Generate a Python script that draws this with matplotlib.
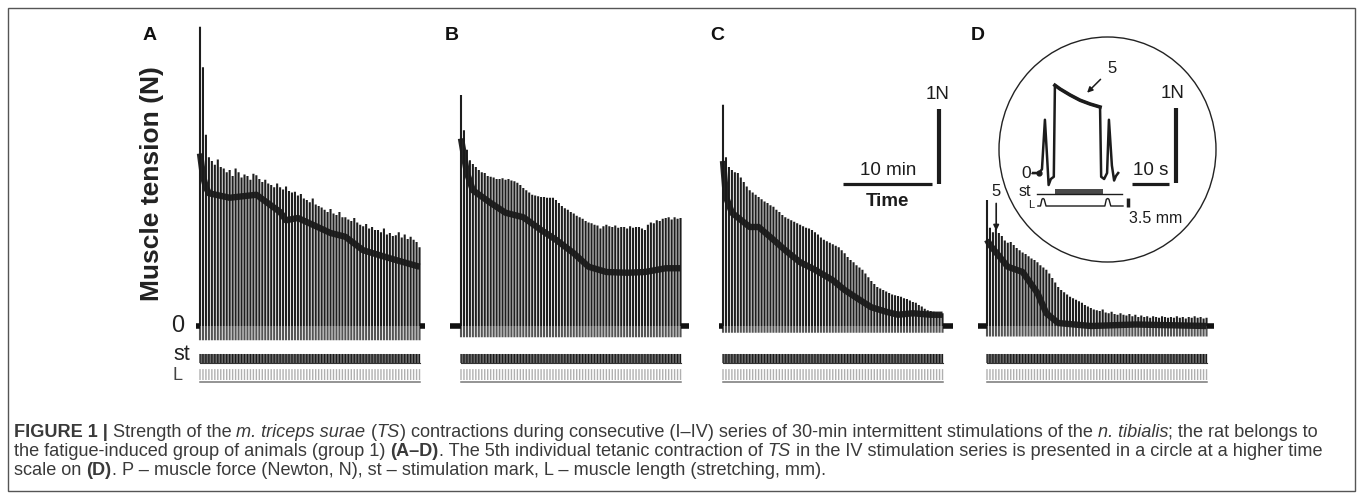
import numpy as np
import matplotlib
matplotlib.use("Agg")
import matplotlib.pyplot as plt
from matplotlib.patches import Rectangle, Ellipse

# ---- data ----
STIM_INTERVAL_S = 20          # one tetanic contraction every 20 s
N_CONTR = 75

# peak tension of every contraction (N), series I-IV
peaks_a = [3.99, 3.45, 2.55, 2.25, 2.20, 2.15, 2.22, 2.12, 2.10, 2.05,
           2.08, 2.00, 2.10, 2.05, 1.98, 2.02, 2.00, 1.95, 2.03, 2.01,
           1.96, 1.92, 1.95, 1.90, 1.88, 1.85, 1.90, 1.85, 1.82, 1.86,
           1.80, 1.78, 1.79, 1.74, 1.76, 1.70, 1.68, 1.65, 1.70, 1.62,
           1.60, 1.58, 1.55, 1.52, 1.56, 1.50, 1.48, 1.52, 1.45, 1.45,
           1.42, 1.40, 1.44, 1.38, 1.35, 1.33, 1.36, 1.30, 1.32, 1.28,
           1.28, 1.25, 1.30, 1.22, 1.24, 1.20, 1.21, 1.25, 1.18, 1.22,
           1.16, 1.19, 1.15, 1.12, 1.05]
peaks_b = [3.08, 2.61, 2.35, 2.21, 2.16, 2.12, 2.08, 2.05, 2.04, 2.00,
           1.99, 1.98, 1.96, 1.96, 1.97, 1.95, 1.96, 1.94, 1.93, 1.91,
           1.88, 1.84, 1.81, 1.78, 1.75, 1.74, 1.73, 1.72, 1.72, 1.71,
           1.71, 1.71, 1.68, 1.64, 1.60, 1.57, 1.55, 1.52, 1.50, 1.47,
           1.45, 1.43, 1.40, 1.38, 1.37, 1.35, 1.34, 1.30, 1.33, 1.35,
           1.33, 1.32, 1.34, 1.31, 1.32, 1.32, 1.30, 1.33, 1.31, 1.32,
           1.32, 1.30, 1.28, 1.35, 1.38, 1.37, 1.41, 1.40, 1.43, 1.44,
           1.45, 1.42, 1.45, 1.43, 1.44]
peaks_c = [2.95, 2.25, 2.12, 2.08, 2.05, 2.04, 1.98, 1.92, 1.86, 1.81,
           1.78, 1.75, 1.72, 1.69, 1.66, 1.64, 1.61, 1.59, 1.55, 1.52,
           1.48, 1.45, 1.43, 1.41, 1.39, 1.37, 1.35, 1.33, 1.31, 1.30,
           1.28, 1.25, 1.22, 1.18, 1.15, 1.13, 1.11, 1.09, 1.07, 1.05,
           1.01, 0.97, 0.92, 0.88, 0.85, 0.81, 0.78, 0.75, 0.70, 0.65,
           0.60, 0.56, 0.52, 0.50, 0.48, 0.46, 0.44, 0.42, 0.41, 0.40,
           0.39, 0.37, 0.36, 0.34, 0.32, 0.31, 0.28, 0.26, 0.23, 0.21,
           0.20, 0.19, 0.18, 0.17, 0.17]
peaks_d = [1.68, 1.31, 1.25, 1.30, 1.24, 1.20, 1.14, 1.11, 1.12, 1.08,
           1.04, 1.01, 0.98, 0.96, 0.93, 0.90, 0.88, 0.85, 0.81, 0.78,
           0.75, 0.70, 0.64, 0.58, 0.52, 0.48, 0.45, 0.42, 0.39, 0.37,
           0.35, 0.33, 0.31, 0.28, 0.26, 0.24, 0.22, 0.21, 0.20, 0.22,
           0.18, 0.17, 0.19, 0.16, 0.15, 0.17, 0.15, 0.14, 0.16, 0.13,
           0.15, 0.12, 0.14, 0.12, 0.13, 0.11, 0.13, 0.12, 0.11, 0.13,
           0.12, 0.11, 0.12, 0.11, 0.13, 0.11, 0.12, 0.10, 0.12, 0.11,
           0.13, 0.11, 0.12, 0.10, 0.11]

# plateau (dark band) tension, given at selected contraction numbers
band_a_idx = [0, 1, 2, 3, 10, 19, 27, 29, 33, 38, 44, 49, 55, 60, 66, 74]
band_a_val = [2.30, 2.00, 1.85, 1.77, 1.71, 1.75, 1.52, 1.41, 1.44, 1.35,
              1.24, 1.19, 1.01, 0.95, 0.88, 0.79]
band_b_idx = [0, 2, 4, 10, 15, 21, 27, 32, 38, 43, 49, 56, 62, 69, 74]
band_b_val = [2.50, 2.04, 1.81, 1.64, 1.51, 1.45, 1.28, 1.15, 0.97, 0.79,
              0.72, 0.71, 0.72, 0.77, 0.77]
band_c_idx = [0, 1, 3, 9, 12, 17, 21, 26, 31, 37, 41, 46, 50, 55, 59, 64, 70, 74]
band_c_val = [2.20, 1.72, 1.51, 1.32, 1.32, 1.15, 1.01, 0.85, 0.75, 0.61,
              0.48, 0.35, 0.25, 0.19, 0.15, 0.17, 0.15, 0.15]
band_d_idx = [0, 1, 7, 12, 17, 20, 24, 35, 50, 74]
band_d_val = [1.15, 1.08, 0.79, 0.72, 0.44, 0.17, 0.04, 0.0, 0.02, 0.0]

troughs = [-0.19, -0.15, -0.09, -0.14]       # undershoot below zero (N)
rest_pre = [0.5, 1.2, 0.5, 1.0]              # resting baseline before series (min)
rest_post = [0.6, 0.9, 1.2, 0.8]             # resting baseline after series (min)
panel_letters = ["A", "B", "C", "D"]

# inset: 5th contraction of series IV (time in s, tension in N)
ins_t = [-1.6, 0.0, 0.8, 1.6, 2.2, 2.6, 3.2, 4.0, 4.3, 5.7, 8.4, 11.1,
         13.8, 16.5, 16.8, 17.6, 18.4, 18.9, 19.7, 20.3, 20.8, 21.4]
ins_f = [0.0, 0.0, 0.05, 0.71, 0.20, -0.16, -0.08, -0.05, 1.17, 1.12, 1.04, 0.97,
         0.92, 0.88, -0.05, -0.08, 0.0, 0.71, 0.10, -0.10, -0.04, 0.0]
ins_stim = (4.3, 17.3)                       # stimulation train (s)
ins_len_t = [-0.3, 0.4, 0.8, 1.1, 1.4, 1.9, 17.8, 18.2, 18.6, 18.9, 19.4, 22.7]
ins_len_v = [0.0, 0.0, 0.09, 0.10, 0.09, 0.0, 0.0, 0.09, 0.10, 0.09, 0.0, 0.0]

caption = [
    [("FIGURE 1 | ", "bold"), ("Strength of the ", ""), ("m. triceps surae", "italic"),
     (" (", ""), ("TS", "italic"),
     (") contractions during consecutive (I\u2013IV) series of 30-min intermittent stimulations of the ", ""),
     ("n. tibialis", "italic"), ("; the rat belongs to", "")],
    [("the fatigue-induced group of animals (group 1) ", ""), ("(A\u2013D)", "bold"),
     (". The 5th individual tetanic contraction of ", ""), ("TS", "italic"),
     (" in the IV stimulation series is presented in a circle at a higher time", "")],
    [("scale on ", ""), ("(D)", "bold"),
     (". P \u2013 muscle force (Newton, N), st \u2013 stimulation mark, L \u2013 muscle length (stretching, mm).", "")],
]

# ---- layout ----
W, H = 1358, 498
PX_MIN = 8.9        # px per minute
PX_N = 75.0         # px per newton
ZERO_Y = 326
panel_x0 = [200, 461, 723, 987]
FONT = "Liberation Sans"
plt.rcParams["font.family"] = [FONT, "DejaVu Sans"]

fig = plt.figure(figsize=(W / 100, H / 100), dpi=100)


def px_axes(x0, y0, x1, y1):
    ax = fig.add_axes([x0 / W, 1 - y1 / H, (x1 - x0) / W, (y1 - y0) / H])
    ax.axis("off")
    return ax


def ftext(x, y, s, **kw):
    return fig.text(x / W, 1 - y / H, s, **kw)


ink = "#1c1c1c"
t = np.arange(N_CONTR) * STIM_INTERVAL_S / 60.0
t_end = t[-1]
all_peaks = [peaks_a, peaks_b, peaks_c, peaks_d]
bands = [(band_a_idx, band_a_val), (band_b_idx, band_b_val),
         (band_c_idx, band_c_val), (band_d_idx, band_d_val)]
axes = []
for k in range(4):
    x0 = panel_x0[k]
    ax = px_axes(x0 - 2 * PX_MIN, ZERO_Y - 4.3 * PX_N, x0 + 27 * PX_MIN, ZERO_Y + 0.9 * PX_N)
    ax.set_xlim(-2, 27)
    ax.set_ylim(-0.9, 4.3)
    axes.append(ax)
    pk = np.array(all_peaks[k])
    ax.vlines(t, troughs[k], 0, color="#555555", lw=1.5, snap=False)
    ax.vlines(t, 0, pk, color="#1e1e1e", lw=1.5, snap=False)
    bi, bv = bands[k]
    ax.plot(np.array(bi) * STIM_INTERVAL_S / 60.0, bv, color="#1a1a1a", lw=4.6,
            solid_capstyle="butt", solid_joinstyle="round", alpha=0.95)
    ax.plot([-rest_pre[k], 0], [0, 0], color="#111111", lw=4, solid_capstyle="butt")
    ax.plot([t_end, t_end + rest_post[k]], [0, 0], color="#111111", lw=4,
            solid_capstyle="butt")
    # stimulation mark
    ax.add_patch(Rectangle((0, -0.493), t_end, 0.12, color="#6a6a6a", lw=0))
    ax.vlines(t, -0.493, -0.373, color="#1a1a1a", lw=0.9, snap=False)
    ax.plot([0, t_end], [-0.493, -0.493], color="#333333", lw=0.8)
    # muscle length
    ax.vlines(t, -0.72, -0.575, color="#b0b0b0", lw=1.0, snap=False)
    ax.plot([0, t_end], [-0.74, -0.74], color="#777777", lw=1.1)
    # panel letter
    ftext([150, 452, 717, 978][k], 35, panel_letters[k], fontsize=14,
          fontweight="bold", ha="center", va="center", color="#111111")

# arrow at the 5th contraction of series IV
FIFTH = 4
axes[3].annotate("5", xy=(t[FIFTH] - 0.3, peaks_d[FIFTH] + 0.03),
                 xytext=(t[FIFTH] - 0.3, peaks_d[FIFTH] + 0.45),
                 fontsize=12, ha="center", va="bottom", color=ink,
                 arrowprops=dict(arrowstyle="-|>", color=ink, lw=1.2,
                                 mutation_scale=8, shrinkA=1, shrinkB=0))

# scale bars (1 N, 10 min) in panel C coordinates
SCALE_N, SCALE_MIN = 1.0, 10.0
axc = axes[2]
bar_x, bar_y = 24.27, 1.89
axc.plot([bar_x, bar_x], [bar_y, bar_y + SCALE_N], color=ink, lw=3, solid_capstyle="butt")
axc.plot([bar_x - 0.75 - SCALE_MIN, bar_x - 0.75], [bar_y, bar_y], color=ink, lw=2.3,
         solid_capstyle="butt")
axc.text(bar_x - 0.15, bar_y + SCALE_N + 0.08, "1N", fontsize=13.5, ha="center", va="bottom",
         color=ink)
axc.text(bar_x - 0.75 - SCALE_MIN / 2, bar_y + 0.07, "10 min", fontsize=13.5, ha="center",
         va="bottom", color=ink)
axc.text(bar_x - 0.75 - SCALE_MIN / 2, bar_y - 0.12, "Time", fontsize=13.5, ha="center",
         va="top", fontweight="bold", color=ink)

# left labels
ftext(178, 326, "0", fontsize=17, ha="center", va="center", color="#222222")
ftext(182, 355, "st", fontsize=15.5, ha="center", va="center", color="#222222")
ftext(178, 376, "L", fontsize=13, ha="center", va="center", color="#444444")
ftext(152, 184, "Muscle tension (N)", fontsize=19, fontweight="bold", rotation=90,
      ha="center", va="center", color="#222222")

# ---- inset ----
fig.add_artist(Ellipse((1107.5 / W, 1 - 149.5 / H), 217 / W, 225 / H, transform=fig.transFigure,
                       fill=False, ec="#222222", lw=1.0))
IPX_S = 3.7
I_T0, I_Y0 = 1039, 173
ix0, iy0, ix1, iy1 = 1000, 40, 1215, 260
ai = px_axes(ix0, iy0, ix1, iy1)
ai.set_xlim((ix0 - I_T0) / IPX_S, (ix1 - I_T0) / IPX_S)
ai.set_ylim((I_Y0 - iy1) / PX_N, (I_Y0 - iy0) / PX_N)
ai.plot(ins_t, ins_f, color=ink, lw=1.8, solid_joinstyle="round")
ai.plot(ins_t[8:14], ins_f[8:14], color=ink, lw=2.6)
ai.plot([ins_t[1]], [0], "o", color=ink, ms=3.5)
st_y = -0.28
ai.plot([-0.5, 22.4], [st_y, st_y], color=ink, lw=1.0)
ai.add_patch(Rectangle((ins_stim[0], st_y), ins_stim[1] - ins_stim[0], 0.07, color="#4a4a4a", lw=0))
l_y = -0.44
ai.plot(ins_len_t, np.array(ins_len_v) + l_y, color=ink, lw=1.0)
LEN_MM = 3.5
ai.plot([24.1, 24.1], [l_y - 0.01, l_y + 0.11], color=ink, lw=2.5, solid_capstyle="butt")
ai.text(31.4, -0.61, "%.1f mm" % LEN_MM, fontsize=11.5, ha="center", va="center", color=ink)
ai.text(-0.7, 0.0, "0-", fontsize=12.5, ha="right", va="center", color=ink)
ai.text(-3.8, -0.25, "st", fontsize=11.5, ha="center", va="center", color=ink)
ai.text(-2.2, -0.43, "L", fontsize=8, ha="center", va="center", color=ink)
ai.plot([37.0, 37.0], [-0.13, -0.13 + SCALE_N], color=ink, lw=3, solid_capstyle="butt")
ai.text(36.2, -0.13 + SCALE_N + 0.08, "1N", fontsize=13.5, ha="center", va="bottom", color=ink)
SCALE_S = 10
ai.plot([25.1, 25.1 + SCALE_S], [-0.147, -0.147], color=ink, lw=2.3, solid_capstyle="butt")
ai.text(30.1, -0.08, "10 s", fontsize=13.5, ha="center", va="bottom", color=ink)
ai.annotate("5", xy=(13.0, 1.07), xytext=(19.7, 1.40), fontsize=12, ha="center", va="center",
            color=ink, arrowprops=dict(arrowstyle="-|>", color=ink, lw=1.1, mutation_scale=8,
                                       shrinkA=4, shrinkB=0))

# ---- caption ----
renderer = fig.canvas.get_renderer()


def run_width(s, size, style):
    kw = dict(fontsize=size, fontweight="bold" if style == "bold" else "normal",
              fontstyle="italic" if style == "italic" else "normal")
    a = fig.text(0, 0, "x" + s + "x", **kw)
    b = fig.text(0, 0, "xx", **kw)
    w = a.get_window_extent(renderer).width - b.get_window_extent(renderer).width
    a.remove()
    b.remove()
    return w


def line_width(runs, size):
    return sum(run_width(s, size, st) for s, st in runs)


cap_size = 10.0
cap_size *= 1311.0 / line_width(caption[0], cap_size)
cap_color = "#3a3a3a"
for li, runs in enumerate(caption):
    x = 14.0
    y = 432 + li * 19
    for s, st in runs:
        ftext(x, y, s, fontsize=cap_size, ha="left", va="center", color=cap_color,
              fontweight="bold" if st == "bold" else "normal",
              fontstyle="italic" if st == "italic" else "normal")
        x += run_width(s, cap_size, st)

# frame
fig.add_artist(Rectangle((8 / W, 1 - 491 / H), (1355 - 8) / W, (491 - 8) / H,
                         transform=fig.transFigure, fill=False, ec="#555555", lw=1.0))

fig.savefig("out.png", dpi=100)
